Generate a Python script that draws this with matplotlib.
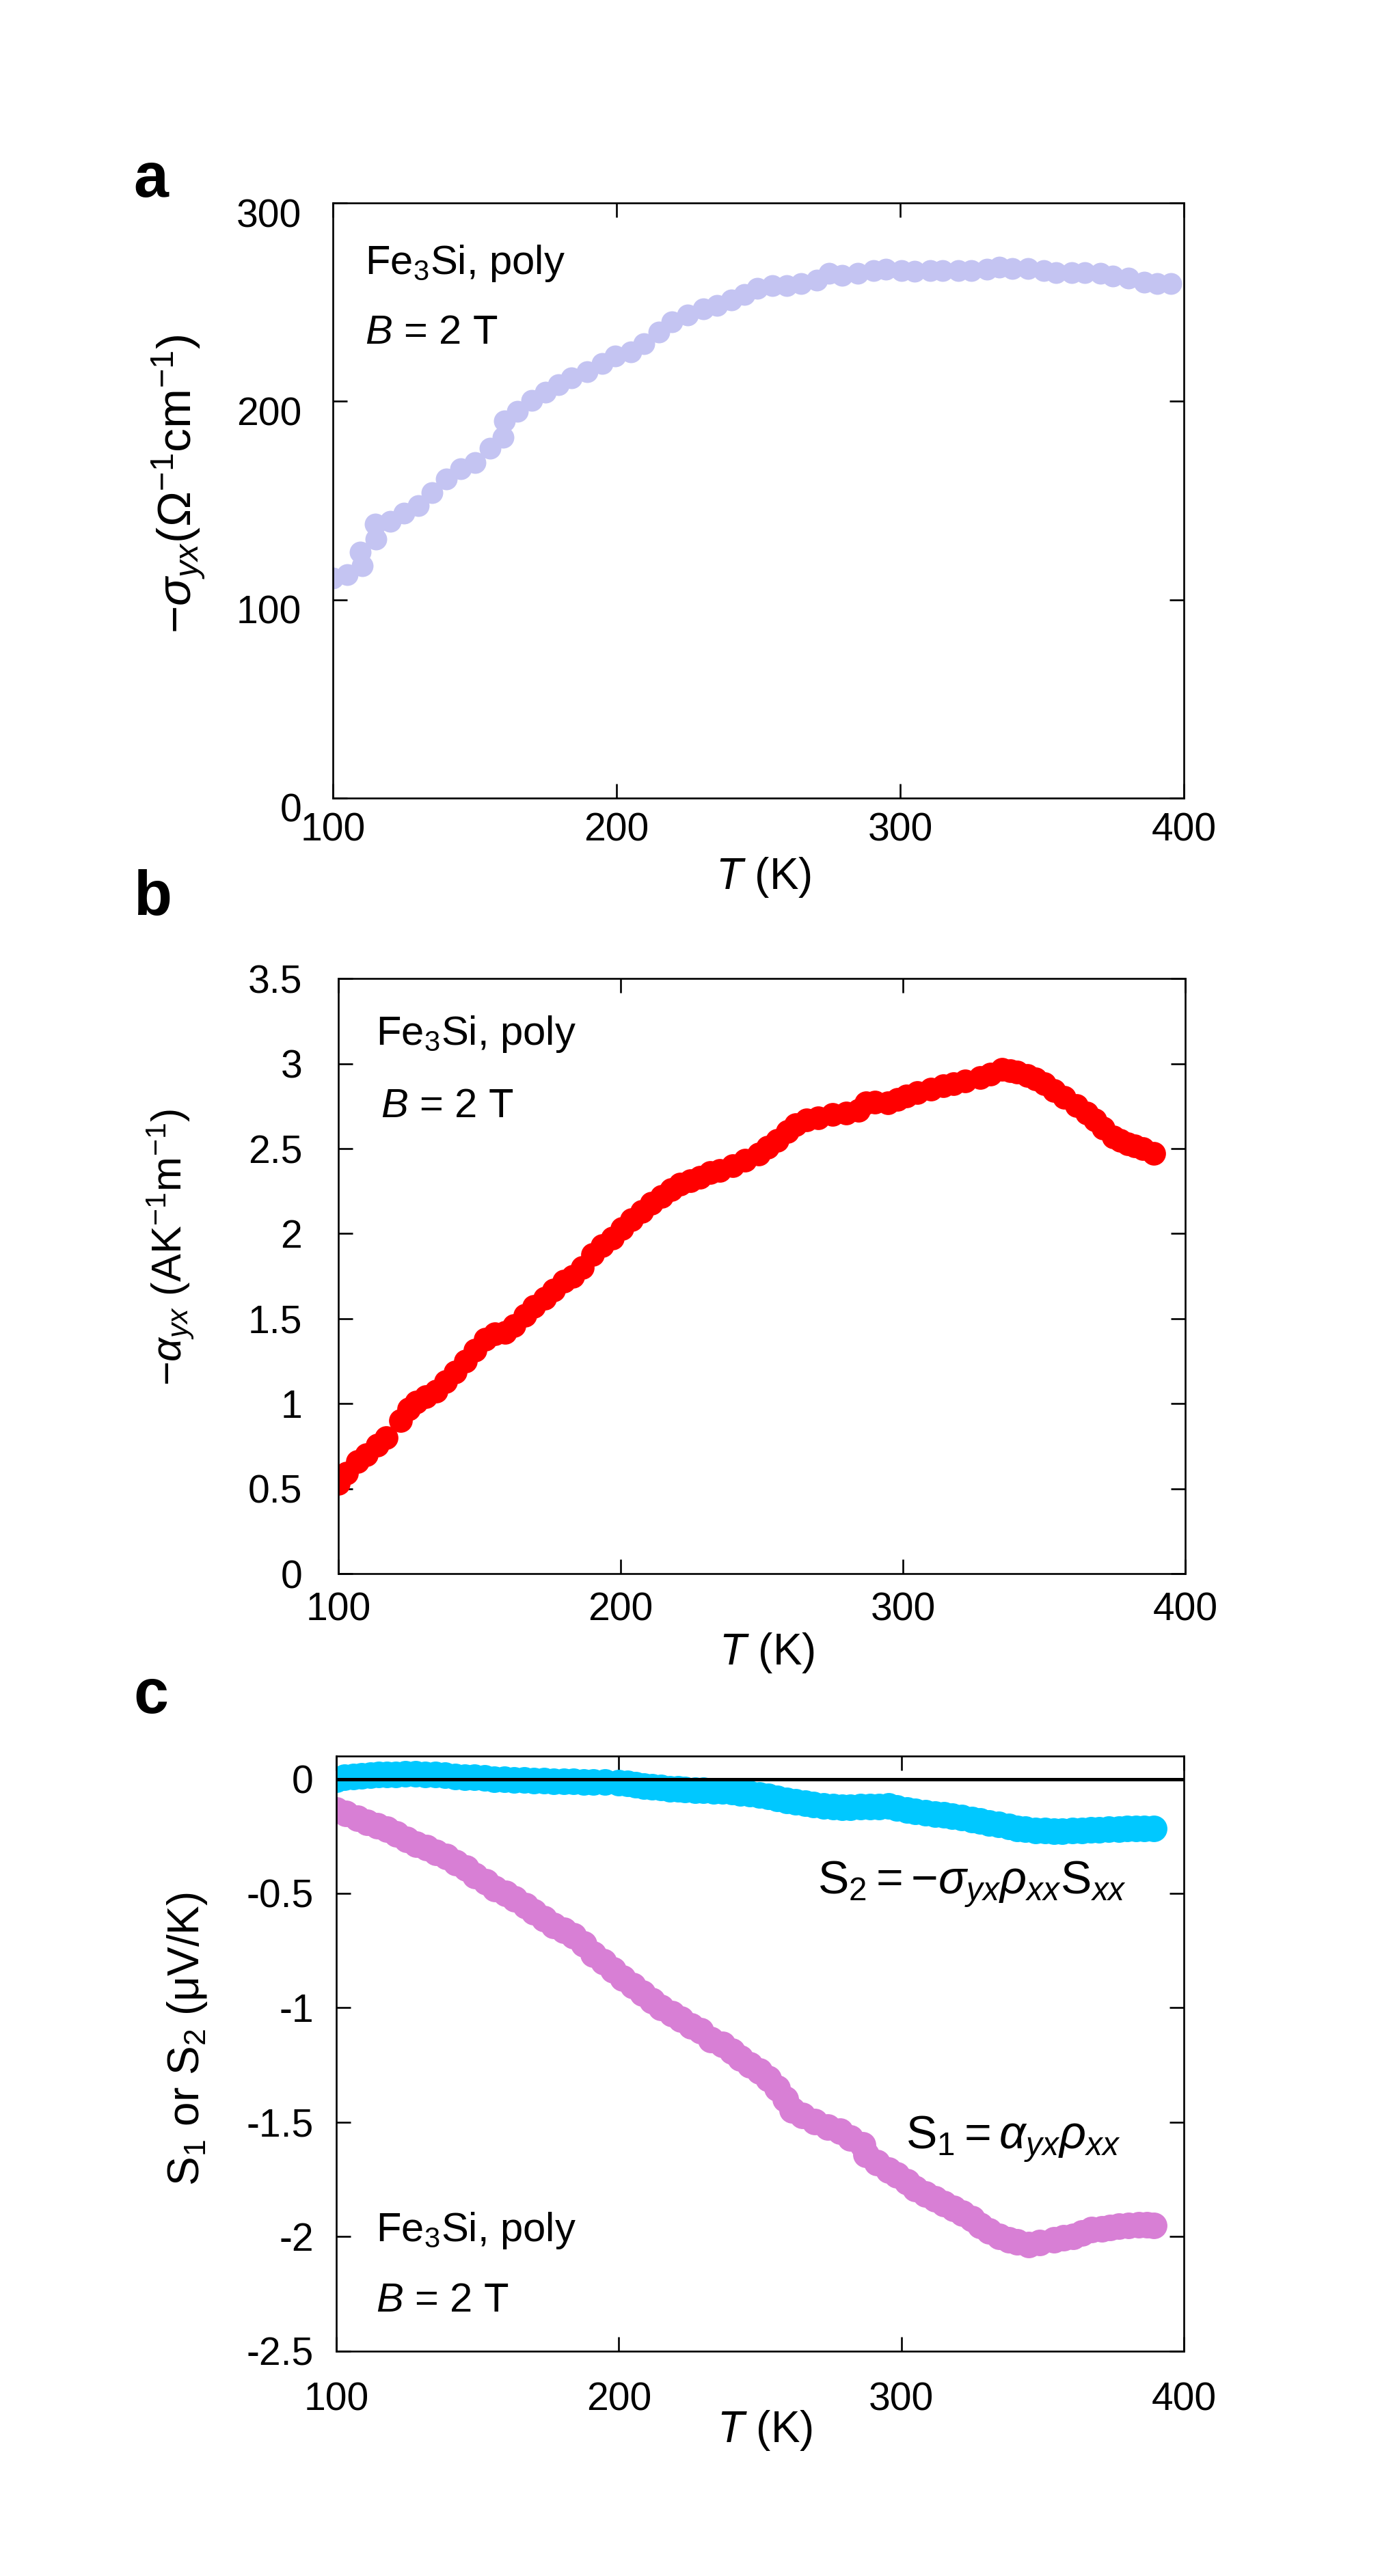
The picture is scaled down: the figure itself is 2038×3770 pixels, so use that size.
import matplotlib
matplotlib.use('Agg')
import matplotlib.pyplot as plt
import matplotlib.transforms as mtransforms

plt.rcParams['font.family'] = ['Liberation Sans', 'DejaVu Sans']
plt.rcParams['mathtext.fontset'] = 'custom'
plt.rcParams['mathtext.rm'] = 'Liberation Sans'
plt.rcParams['mathtext.it'] = 'Liberation Sans:italic'
plt.rcParams['mathtext.bf'] = 'Liberation Sans:bold'

# ---- panel a: -sigma_yx ----
T_a = [100, 105, 109.7, 110.3, 114.9, 115.2, 120.3, 125, 130, 135, 140, 145, 150, 155.5,
       160, 160.5, 165, 170, 175, 179.5, 184, 189.5, 195, 199.5, 205, 209.5, 215, 219.5,
       225, 230.5, 235.5, 240.5, 245, 249.5, 255, 260, 265, 270.5, 275, 279.5, 285, 290.5,
       295, 300.5, 305, 310.5, 315, 320.5, 325, 330.5, 335, 339.5, 345, 350.5, 355, 360.5,
       365, 370.5, 375, 380.5, 386, 390.5, 395.5]
sigma_yx = [111, 112.5, 124, 117, 138, 130.5, 139.5, 143.5, 147.5, 154, 161, 166, 169, 176.5,
            182, 190, 195, 200.5, 204.5, 208.5, 212, 215, 219, 223, 225, 229, 235, 240,
            243.5, 246.5, 248.5, 251, 254, 257, 258.5, 258.5, 259.5, 261, 264.5, 263.5, 264.5, 266,
            266.5, 266, 265.5, 266, 266, 266, 266, 266.5, 267.5, 267, 267, 266, 265, 265,
            265, 264.5, 263, 262, 260, 259.5, 259.5]

# ---- panel b: -alpha_yx ----
T_b = [100, 103, 106.8, 110, 113.7, 117, 122, 125, 127.6, 131, 134.5, 138, 141.5, 145,
       148.4, 152, 155.4, 159, 162.3, 166, 169.2, 173, 176.2, 180, 183.1, 186.5, 190.1,
       193.5, 197, 200.5, 203.9, 207.5, 210.9, 214.5, 217.8, 221, 224.8, 228, 231.7, 235,
       239.7, 244, 248.8, 252, 255.4, 259, 261.9, 265.8, 270, 275, 280, 284.2, 286.8, 290,
       294.6, 298, 301.2, 305, 310, 314.3, 318, 322, 327.4, 331, 335.2, 338, 340.4, 344,
       347, 350, 353.5, 357, 361.4, 365, 368, 371, 374.5, 377, 379.7, 382, 385, 388.9]
alpha_yx = [0.53, 0.59, 0.66, 0.70, 0.755, 0.80, 0.90, 0.97, 1.01, 1.04, 1.075, 1.13, 1.187, 1.25,
            1.315, 1.38, 1.41, 1.42, 1.46, 1.52, 1.571, 1.62, 1.667, 1.72, 1.748, 1.80, 1.876,
            1.93, 1.972, 2.03, 2.084, 2.13, 2.18, 2.22, 2.26, 2.29, 2.31, 2.33, 2.36, 2.37,
            2.40, 2.43, 2.47, 2.51, 2.55, 2.60, 2.64, 2.67, 2.68, 2.70, 2.71, 2.727, 2.77, 2.775,
            2.77, 2.79, 2.81, 2.83, 2.85, 2.87, 2.88, 2.90, 2.92, 2.94, 2.966, 2.96, 2.95, 2.93,
            2.91, 2.88, 2.84, 2.80, 2.755, 2.71, 2.67, 2.62, 2.57, 2.55, 2.53, 2.515, 2.50, 2.473]

# ---- panel c: S1 and S2 ----
T_s1 = [100, 103.5, 107.5, 111, 114.5, 118, 121.4, 125, 128.4, 132, 135.3, 139, 142.3, 146,
        149.2, 153, 156.2, 160, 163.1, 167, 170, 173.5, 177, 180.5, 184, 187.5, 191, 194.5,
        197.9, 201.5, 204.9, 208.5, 211.8, 215, 218.8, 222, 225.7, 229, 232.7, 236.6, 240,
        243, 246.5, 249.7, 253, 256, 259, 261.4, 265, 269.3, 274, 278.4, 282, 286.3, 287.6,
        291.5, 295.4, 298.5, 302, 305, 308.5, 312, 315, 318.5, 321.6, 325, 328, 331, 334.6,
        338, 341, 345, 349, 354, 357.5, 360.8, 364, 367.3, 371, 374, 377, 380.4, 384, 387, 389.5]
S1 = [-0.137, -0.15, -0.171, -0.19, -0.205, -0.22, -0.24, -0.265, -0.285, -0.30, -0.32, -0.34,
      -0.365, -0.39, -0.422, -0.45, -0.479, -0.50, -0.525, -0.555, -0.582, -0.61, -0.639, -0.66,
      -0.685, -0.72, -0.765, -0.80, -0.833, -0.87, -0.902, -0.935, -0.97, -1.0, -1.027, -1.05,
      -1.08, -1.10, -1.14, -1.16, -1.19, -1.22, -1.25, -1.277, -1.31, -1.35, -1.40, -1.445,
      -1.47, -1.498, -1.52, -1.54, -1.57, -1.60, -1.64, -1.675, -1.708, -1.73, -1.76, -1.79,
      -1.813, -1.835, -1.855, -1.875, -1.897, -1.92, -1.95, -1.975, -2.00, -2.015, -2.023,
      -2.034, -2.025, -2.013, -2.005, -2.00, -1.985, -1.97, -1.965, -1.96, -1.955, -1.95,
      -1.948, -1.947, -1.95]

T_s2 = [100, 103, 106, 109, 112, 115, 118, 121, 124.5, 128, 131.5, 135, 138.5, 142, 145.5, 149,
        152.5, 156, 159.5, 163, 166.5, 170, 173.5, 177, 180.5, 184, 187.5, 191, 195, 200, 203,
        206, 209, 211.8, 215, 218, 221, 223.5, 227, 230, 233.5, 236.6, 240, 243, 246.5, 249.7,
        253, 256, 259.5, 262.7, 266, 269, 272.5, 275.8, 279, 282, 285.5, 288.9, 292, 295.4,
        298.5, 302, 305, 308.5, 312, 315, 318, 321.5, 325, 328, 331, 334.5, 338, 341, 344,
        347.5, 351, 354, 357, 360.5, 364, 367, 370, 373.5, 377, 380, 383, 386, 389.5]
S2 = [0.0, 0.006, 0.011, 0.014, 0.017, 0.018, 0.019, 0.02, 0.021, 0.022, 0.02, 0.018, 0.015,
      0.011, 0.008, 0.006, 0.003, 0.0, -0.002, -0.003, -0.005, -0.007, -0.008, -0.009, -0.01,
      -0.011, -0.012, -0.013, -0.014, -0.016, -0.02, -0.025, -0.03, -0.034, -0.038, -0.042,
      -0.044, -0.045, -0.048, -0.05, -0.052, -0.053, -0.056, -0.06, -0.064, -0.069, -0.077,
      -0.085, -0.093, -0.10, -0.106, -0.112, -0.118, -0.122, -0.123, -0.123, -0.122, -0.122,
      -0.12, -0.118, -0.127, -0.137, -0.142, -0.148, -0.153, -0.158, -0.164, -0.17, -0.178,
      -0.185, -0.192, -0.2, -0.208, -0.216, -0.22, -0.224, -0.226, -0.227, -0.227, -0.226,
      -0.225, -0.223, -0.222, -0.22, -0.218, -0.216, -0.215, -0.215, -0.216]

DPI = 200
fig = plt.figure(figsize=(2038 / DPI, 3770 / DPI), dpi=DPI)

ax_a = fig.add_axes([0.2390, 0.6902, 0.6109, 0.2310])
ax_b = fig.add_axes([0.2429, 0.3891, 0.6080, 0.2310])
ax_c = fig.add_axes([0.2414, 0.0873, 0.6084, 0.2310])

TICK_FS = 20.5


def style_axis(ax, ypad, xpad):
    for sp in ax.spines.values():
        sp.set_linewidth(0.95)
    ax.tick_params(direction='in', top=True, right=True, length=7.5, width=0.95,
                   labelsize=TICK_FS)
    ax.tick_params(axis='y', pad=ypad)
    ax.tick_params(axis='x', pad=xpad)
    ax.set_xlim(100, 400)
    ax.set_xticks([100, 200, 300, 400])
    ax.text(0.506, -0.133, r'$T$ (K)', transform=ax.transAxes, fontsize=23,
            ha='center', va='center')


# panel a
ax_a.plot(T_a, sigma_yx, 'o', color='#C4C4F2', markersize=11.5, markeredgewidth=0)
ax_a.set_ylim(0, 300)
ax_a.set_yticks([0, 100, 200, 300])
style_axis(ax_a, 16.5, 7.5)
shift = mtransforms.ScaledTranslation(0, -14 / DPI, fig.dpi_scale_trans)
for lab in ax_a.get_yticklabels():
    lab.set_transform(lab.get_transform() + shift)
ax_a.text(-0.1815, 0.528, r'$-\sigma_{yx}$(Ω$^{-1}$cm$^{-1}$)', transform=ax_a.transAxes,
          rotation=90, fontsize=25, ha='center', va='center')
ax_a.text(0.038, 0.881, r'Fe$_3$Si, poly', transform=ax_a.transAxes, fontsize=21.5,
          va='baseline')
ax_a.text(0.038, 0.763, r'$B$ = 2 T', transform=ax_a.transAxes, fontsize=21.5,
          va='baseline')

# panel b
ax_b.plot(T_b, alpha_yx, 'o', color='#FF0000', markersize=12.5, markeredgewidth=0)
ax_b.set_ylim(0, 3.5)
ax_b.set_yticks([0, 0.5, 1, 1.5, 2, 2.5, 3, 3.5])
ax_b.set_yticklabels(['0', '0.5', '1', '1.5', '2', '2.5', '3', '3.5'])
style_axis(ax_b, 19, 9.5)
ax_b.text(-0.198, 0.548, r'$-\alpha_{yx}$ (AK$^{-1}$m$^{-1}$)', transform=ax_b.transAxes,
          rotation=90, fontsize=22, ha='center', va='center')
ax_b.text(0.044, 0.889, r'Fe$_3$Si, poly', transform=ax_b.transAxes, fontsize=21.5,
          va='baseline')
ax_b.text(0.05, 0.767, r'$B$ = 2 T', transform=ax_b.transAxes, fontsize=21.5,
          va='baseline')

# panel c
ax_c.axhline(0, color='black', lw=1.8, zorder=3)
ax_c.plot(T_s2, S2, 'o', color='#00C8FF', markersize=14, markeredgewidth=0, zorder=2)
ax_c.plot(T_s1, S1, 'o', color='#D87FD5', markersize=14, markeredgewidth=0, zorder=2)
ax_c.set_ylim(-2.5, 0.1)
ax_c.set_yticks([-2.5, -2, -1.5, -1, -0.5, 0])
ax_c.set_yticklabels(['-2.5', '-2', '-1.5', '-1', '-0.5', '0'])
style_axis(ax_c, 12, 16)
ax_c.text(-0.176, 0.524, r'S$_{\mathit{1}}$ or S$_2$ (μV/K)', transform=ax_c.transAxes,
          rotation=90, fontsize=23, ha='center', va='center')
ax_c.text(0.0466, 0.185, r'Fe$_3$Si, poly', transform=ax_c.transAxes, fontsize=21.5,
          va='baseline')
ax_c.text(0.0466, 0.067, r'$B$ = 2 T', transform=ax_c.transAxes, fontsize=21.5,
          va='baseline')
ax_c.text(379.7, -0.5, r'$\mathrm{S}_2 = -\sigma_{yx}\rho_{xx}\mathrm{S}_{xx}$', fontsize=24.5,
          ha='right', va='baseline')
ax_c.text(377.8, -1.613, r'$\mathrm{S}_1 = \alpha_{yx}\rho_{xx}$', fontsize=24.5,
          ha='right', va='baseline')

# panel letters
for letter, y in [('a', 0.9236), ('b', 0.6448), ('c', 0.335)]:
    fig.text(0.096, y, letter, fontsize=33, fontweight='bold', va='baseline')

fig.savefig('out.png', dpi=DPI)
